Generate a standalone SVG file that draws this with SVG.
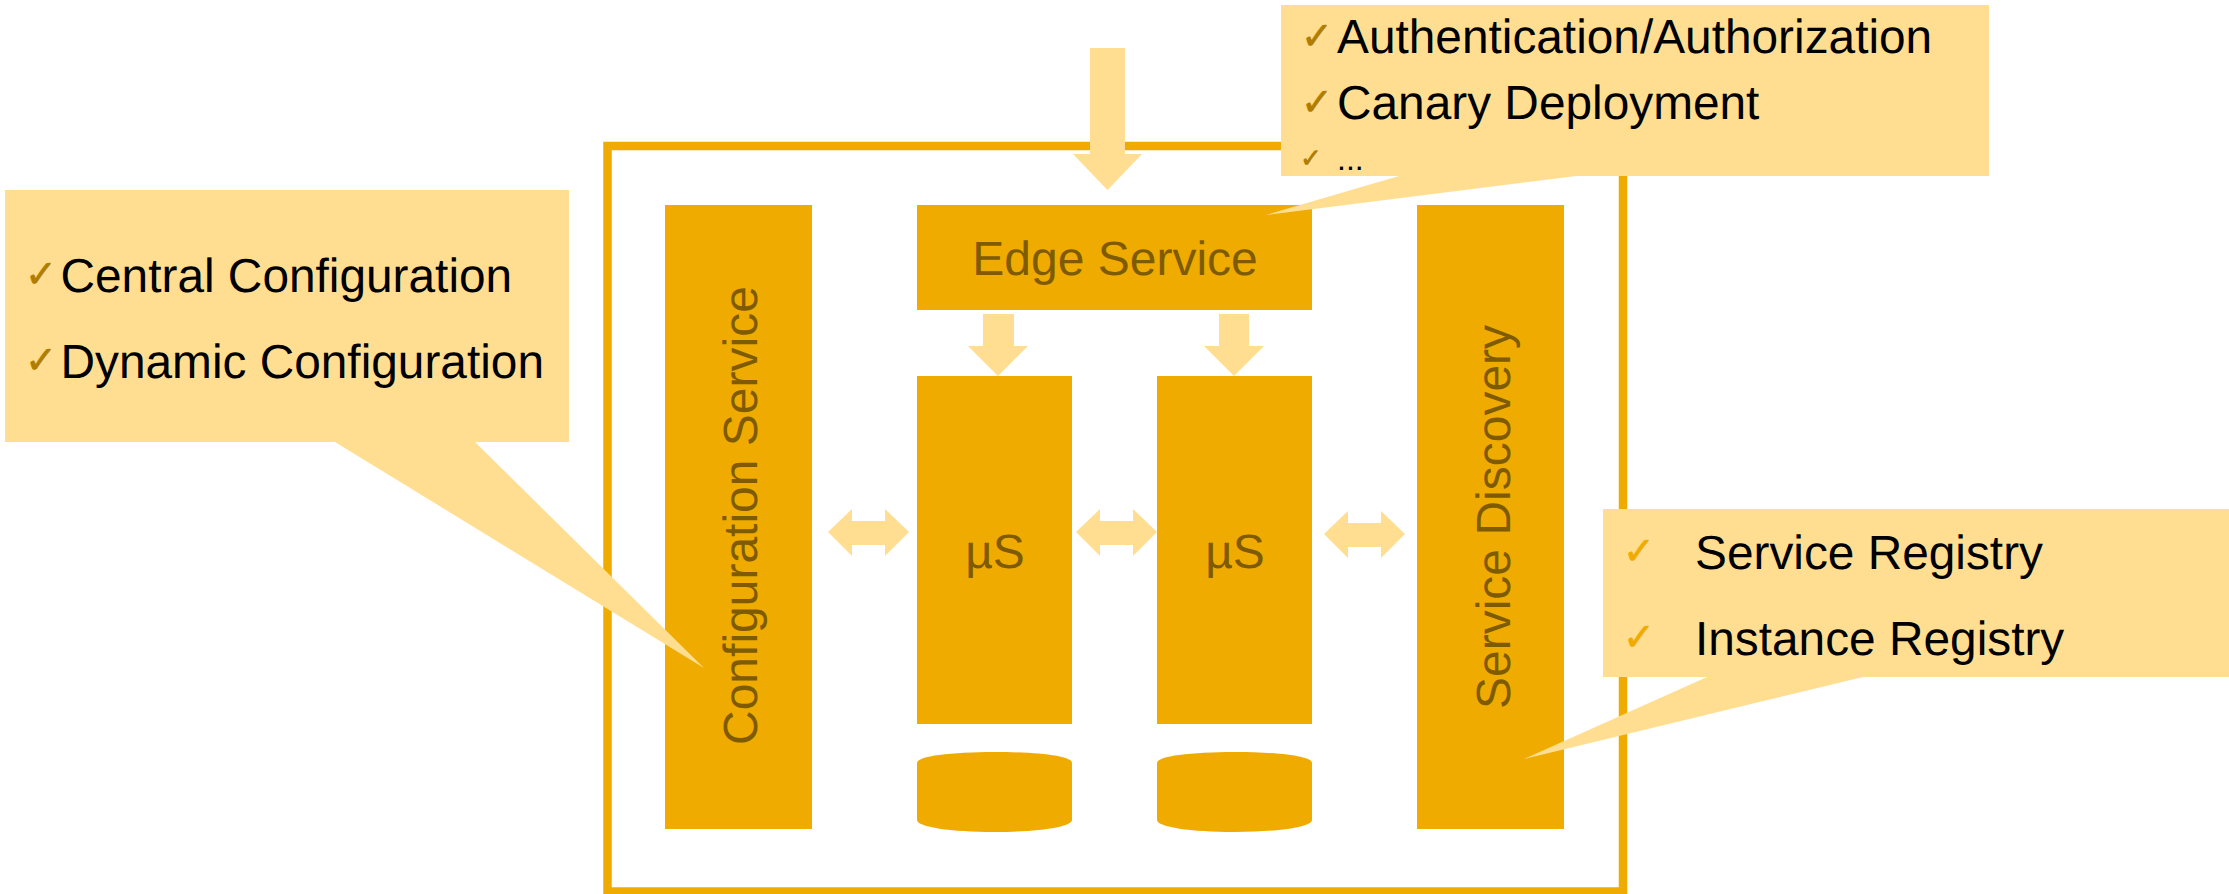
<svg xmlns="http://www.w3.org/2000/svg" width="2229" height="894" viewBox="0 0 2229 894">
<style>
text{font-family:"Liberation Sans",Arial,sans-serif;text-rendering:geometricPrecision}
.box{fill:#F0AB00}
.lt{fill:#FFDE91}
.lbl{font-size:48px;fill:#7F5B00}
.t{font-size:47.8px;fill:#000}
.ck{font-family:"DejaVu Sans",sans-serif;font-size:38px;fill:#B07D00;stroke:#B07D00;stroke-width:.7}
.ck2{fill:#F0AB00;stroke:#F0AB00}
</style>
<rect width="2229" height="894" fill="#fff"/>
<g id="frame"><rect x="607.5" y="146" width="1015.5" height="745.5" fill="none" stroke="#F0AB00" stroke-width="8.5"/></g>
<g id="config-service"><rect class="box" x="665" y="205" width="147" height="624"/><text class="lbl" transform="translate(756.500 745) rotate(-90)">Configuration Service</text></g>
<g id="edge-service"><rect class="box" x="917" y="205" width="395" height="105"/><text class="lbl" x="1115" y="275" text-anchor="middle">Edge Service</text></g>
<g id="us-1"><rect class="box" x="917" y="376" width="155" height="348"/><text class="lbl" x="995" y="568" text-anchor="middle">µS</text></g>
<g id="us-2"><rect class="box" x="1157" y="376" width="155" height="348"/><text class="lbl" x="1235" y="568" text-anchor="middle">µS</text></g>
<g id="service-discovery"><rect class="box" x="1417" y="205" width="147" height="624"/><text class="lbl" transform="translate(1510 709) rotate(-90)">Service Discovery</text></g>
<g id="db-1"><path class="box" d="M917 763C917 756 951 752 994.500 752S1072 756 1072 763V820C1072 827 1038 832 994.500 832S917 827 917 820Z"/></g>
<g id="db-2"><path class="box" d="M1157 763C1157 756 1191 752 1234.500 752S1312 756 1312 763V820C1312 827 1278 832 1234.500 832S1157 827 1157 820Z"/></g>
<g id="connectors">
<path class="lt" d="M1090 48H1125V154H1142L1107.500 190L1073 154H1090Z"/>
<path class="lt" d="M983 314H1014V346H1028L998 376L968 346H983Z"/>
<path class="lt" d="M1219 314H1249V346H1264L1234 376L1204 346H1219Z"/>
<path class="lt" d="M828 532L852 509V521H885V509L909 532L885 556V545H852V556Z"/>
<path class="lt" d="M1076 532L1100 509V521H1133V509L1157 532L1133 556V545H1100V556Z"/>
<path class="lt" d="M1324 534L1348 511V523H1381V511L1405 534L1381 558V547H1348V558Z"/>
</g>
<g id="callout-config"><path class="lt" d="M5 190H569V442H475L704 668L335 442H5Z"/>
<text class="ck" x="25" y="287">✓</text><text class="t" x="60.500" y="292">Central Configuration</text>
<text class="ck" x="25" y="373">✓</text><text class="t" x="60.500" y="378">Dynamic Configuration</text></g>
<g id="callout-edge"><path class="lt" d="M1281 5H1989V176H1576L1266 215L1399 176H1281Z"/>
<text class="ck" x="1301" y="49">✓</text><text class="t" x="1337" y="53">Authentication/Authorization</text>
<text class="ck" x="1301" y="115">✓</text><text class="t" x="1337" y="119">Canary Deployment</text>
<text class="ck" x="1300" y="167" style="font-size:26px">✓</text><text class="t" x="1337" y="170" style="font-size:32px">...</text></g>
<g id="callout-discovery"><path class="lt" d="M1603 509H2229V677H1863L1524 759L1707 677H1603Z"/>
<text class="ck ck2" x="1623" y="564">✓</text><text class="t" x="1695" y="569">Service Registry</text>
<text class="ck ck2" x="1623" y="650">✓</text><text class="t" x="1695" y="655">Instance Registry</text></g>
</svg>
